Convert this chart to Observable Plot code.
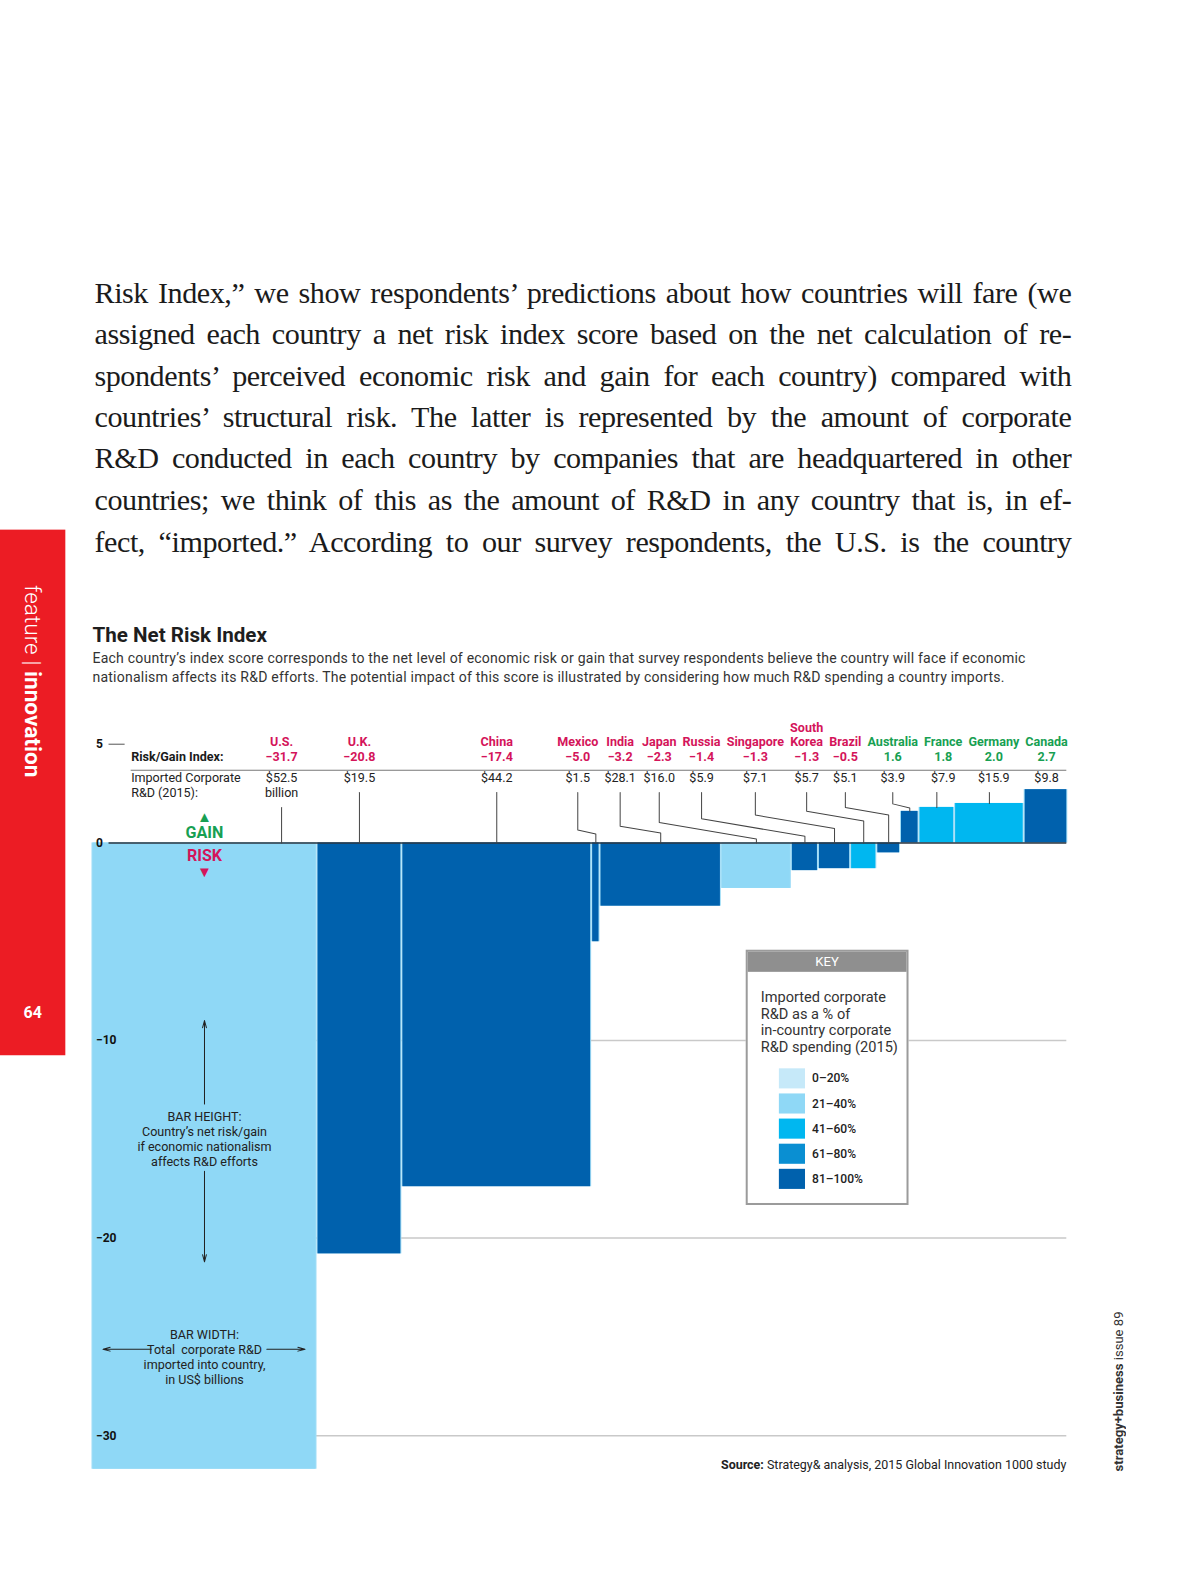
<!DOCTYPE html>
<html><head><meta charset="utf-8">
<script src="https://cdn.jsdelivr.net/npm/d3@7"></script>
<script src="https://cdn.jsdelivr.net/npm/@observablehq/plot@0.6"></script>
<style>
html,body{margin:0;padding:0;background:#fff;overflow:hidden;}
#page{position:relative;width:1200px;height:1575px;overflow:hidden;background:#fff;font-family:Roboto,"Noto Sans",sans-serif;color:#222;transform-origin:0 0;transform:scale(1.005);}
.para{position:absolute;left:94px;top:270px;width:972px;font-family:"Liberation Serif","Times New Roman",serif;font-size:30px;line-height:41.3px;color:#1b1b1b;letter-spacing:-0.45px;}
.para .ln{white-space:nowrap;height:41.3px;}
.abs{position:absolute;}
</style></head>
<body><div id="page">
<div class="para">
<div class="ln"><span>Risk Index,” we show respondents’ predictions about how countries will fare (we</span></div>
<div class="ln"><span>assigned each country a net risk index score based on the net calculation of re-</span></div>
<div class="ln"><span>spondents’ perceived economic risk and gain for each country) compared with</span></div>
<div class="ln"><span>countries’ structural risk. The latter is represented by the amount of corporate</span></div>
<div class="ln"><span>R&amp;D conducted in each country by companies that are headquartered in other</span></div>
<div class="ln"><span>countries; we think of this as the amount of R&amp;D in any country that is, in ef-</span></div>
<div class="ln"><span>fect, “imported.” According to our survey respondents, the U.S. is the country</span></div>
</div>

<div class="abs" style="left:0;top:527px;width:65px;height:523px;background:#ec1c24;"></div>
<div class="abs" style="left:21px;top:582px;writing-mode:vertical-rl;font-size:22.5px;line-height:24px;color:#fff;white-space:nowrap;"><span style="font-weight:300">feature</span> <span style="font-weight:300">|</span> <span style="font-weight:700">innovation</span></div>
<div class="abs" style="left:0;top:998px;width:65px;text-align:center;font-size:16px;font-weight:700;color:#fff;line-height:20px;">64</div>

<div class="abs" style="left:1104px;top:1305px;writing-mode:vertical-rl;transform:rotate(180deg);font-size:13px;line-height:17px;color:#333;white-space:nowrap;"><b>strategy+business</b> issue 89</div>

<div class="abs" style="left:92px;top:619px;font-size:20.5px;line-height:26px;font-weight:700;color:#1e1e1e;">The Net Risk Index</div>
<div class="abs" style="left:92px;top:646px;width:1050px;font-size:14px;line-height:19px;letter-spacing:0.2px;color:#333;white-space:nowrap;">Each country’s index score corresponds to the net level of economic risk or gain that survey respondents believe the country will face if economic<br>nationalism affects its R&amp;D efforts. The potential impact of this score is illustrated by considering how much R&amp;D spending a country imports.</div>

<div id="chart" class="abs" style="left:0;top:700px;width:1200px;height:780px;"></div>
<div id="key" class="abs"></div>

<div class="abs" style="right:139px;top:1450px;font-size:12.4px;line-height:16px;color:#222;white-space:nowrap;"><b>Source:</b> Strategy&amp; analysis, 2015 Global Innovation 1000 study</div>
</div>

<script>
// ---------- data ----------
const countries = ["U.S.","U.K.","China","Mexico","India","Japan","Russia","Singapore","South Korea","Brazil","Australia","France","Germany","Canada"];
const riskIndex = [-31.7,-20.8,-17.4,-5.0,-3.2,-2.3,-1.4,-1.3,-1.3,-0.5,1.6,1.8,2.0,2.7];
const importedRD = [52.5,19.5,44.2,1.5,28.1,16.0,5.9,7.1,5.7,5.1,3.9,7.9,15.9,9.8];
const shareBand = ["21–40%","81–100%","81–100%","81–100%","81–100%","21–40%","81–100%","81–100%","41–60%","81–100%","81–100%","41–60%","41–60%","81–100%"];
const bandLabels = ["0–20%","21–40%","41–60%","61–80%","81–100%"];
const bandColors = ["#c6e9f9","#8fd8f6","#00b7f0","#0a8fd2","#0061ad"];
const yTicks = [5,0,-10,-20,-30];

const PAGE_SCALE = 1.005;

// ---------- paragraph justification ----------
document.querySelectorAll(".para .ln").forEach(el=>{
  const s = el.firstElementChild;
  const w = s.getBoundingClientRect().width / PAGE_SCALE;
  const n = (s.textContent.match(/ /g)||[]).length;
  s.style.wordSpacing = ((972 - w)/n) + "px";
});

// ---------- layout ----------
const RED = "#d4145a", GREEN = "#17a052";
const FS = 12.5;
const GAP = 0.47;
let acc = 0;
const bars = countries.map((c,i)=>{
  const x0 = acc, x1 = acc + importedRD[i];
  acc = x1 + GAP;
  return {country:c, value:riskIndex[i], rd:importedRD[i], band:shareBand[i], x0, x1, mid:(x0+x1)/2, i};
});
const total = bars[bars.length-1].x1;
const X0 = 92, X1 = 1061;
const yRange = [728, 40];
const xs = Plot.scale({x:{domain:[0,total], range:[X0,X1]}});
const ys = Plot.scale({y:{domain:[-30,5], range:yRange}});
const px = v => xs.apply(v), ipx = p => xs.invert(p), ipy = p => ys.invert(p);

const fmt = v => (v<0?"−":"") + Math.abs(v).toFixed(1);
const ctx = document.createElement("canvas").getContext("2d");
const tw = (t, f) => { ctx.font = f; return Math.max(...t.split("\n").map(s=>ctx.measureText(s).width)); };
const FB = `bold ${FS}px Roboto`, FR = `${FS}px Roboto`;

const L = bars.map((b,i)=>{
  const nameTxt = b.country.includes(" ") ? b.country.replace(" ","\n") : b.country;
  const valTxt = fmt(b.value);
  const rdTxt = "$" + b.rd.toFixed(1) + (i===0 ? "\nbillion" : "");
  const w = Math.max(tw(nameTxt,FB), tw(valTxt,FB), tw(rdTxt,FR));
  return {...b, nameTxt, valTxt, rdTxt, w, lx: px(b.mid)};
});
const GAPPX = 6;
const rowTitleX = 130;
const rowTitleRight = rowTitleX + tw("Imported Corporate", FR);
for (let i=0;i<L.length;i++){
  const minX = i===0 ? rowTitleRight + 24 + L[i].w/2 : L[i-1].lx + (L[i-1].w+L[i].w)/2 + GAPPX;
  L[i].lx = Math.max(L[i].lx, minX);
}
for (let i=L.length-1;i>=0;i--){
  const maxX = i===L.length-1 ? X1 + 1 - L[i].w/2 : L[i+1].lx - (L[i+1].w+L[i].w)/2 - GAPPX;
  L[i].lx = Math.min(L[i].lx, maxX);
}
L.forEach(d=>d.lxData = ipx(d.lx));

// leader lines
const y0px = ys.apply(0);
const leaders = [];
let k = 0;
L.forEach((d,i)=>{
  const bx = px(d.mid);
  const startPx = d.rdTxt.includes("\n") ? 103 : 88;
  const endPx = d.value > 0 ? ys.apply(d.value) : y0px;
  if (endPx - startPx < 6) return;
  let pts;
  if (i===0) pts = [[d.lx,startPx],[d.lx,endPx]];          // annotated bar: leader at label
  else if (Math.abs(bx-d.lx) < 11) pts = [[bx,startPx],[bx,endPx]];
  else {
    const k1 = y0px - 13 - k*3.7;
    const k2 = Math.min(k1 + Math.max(4, Math.abs(bx-d.lx)*0.17), endPx - 3);
    pts = [[d.lx,startPx],[d.lx,k1],[bx,k2],[bx,endPx]];
    k++;
  }
  pts.forEach(([x,y])=>leaders.push({country:d.country, x:ipx(x), y:ipy(y)}));
});

const us = bars[0];
const tickFmt = v => v<0 ? "−"+Math.abs(v) : String(v);
const neg = L.filter(d=>d.value<0), pos = L.filter(d=>d.value>=0);

const chart = Plot.plot({
  width: 1200, height: 780,
  marginLeft: X0, marginRight: 1200-X1, marginTop: 20, marginBottom: 12,
  x: {domain:[0,total], range:[X0,X1], axis:null},
  y: {domain:[-30,5], range:yRange, axis:null},
  color: {domain: bandLabels, range: bandColors},
  style: {fontFamily:"Roboto, sans-serif", fontSize:`${FS}px`, color:"#222", background:"transparent", overflow:"visible"},
  marks: [
    Plot.ruleY(yTicks.filter(t=>t<0), {x1: () => 0, x2: () => total, stroke:"#c9c9c9", strokeWidth:1.5}),
    Plot.rect(bars, {x1: d=>d.x0-GAP/2, x2: d=>d.x1+GAP/2, y1: () => 0, y2: "value", fill:"#a3def7"}),
    Plot.rect(bars, {x1:"x0", x2:"x1", y1: () => 0, y2:"value", fill:"band"}),
    Plot.ruleY([0], {x1: () => ipx(108), x2: () => total, stroke:"#2b3640", strokeWidth:1.5}),
    Plot.ruleY([5], {x1: () => ipx(108), x2: () => ipx(124), stroke:"#555", strokeWidth:1}),
    Plot.text(yTicks, {x: () => 0, y: d=>d, text: tickFmt, textAnchor:"start", dx:3, fontWeight:"bold", fontSize:12, fill:"#111"}),
    // header rows
    Plot.text(["Risk/Gain Index:"], {x: () => ipx(rowTitleX), y: () => ipy(53), text: d=>d, textAnchor:"start", fontWeight:"bold", fill:"#1a1a1a"}),
    Plot.text(["Imported Corporate\nR&D (2015):"], {x: () => ipx(rowTitleX), y: () => ipy(67), text: d=>d, textAnchor:"start", lineAnchor:"top", lineHeight:1.2, fill:"#222"}),
    Plot.ruleY([ipy(66)], {x1: () => ipx(rowTitleX), x2: () => total, stroke:"#777", strokeWidth:1}),
    Plot.text(neg, {x:"lxData", y: () => ipy(42), text:"nameTxt", lineAnchor:"bottom", lineHeight:1.12, fontWeight:"bold", fill:RED}),
    Plot.text(pos, {x:"lxData", y: () => ipy(42), text:"nameTxt", lineAnchor:"bottom", lineHeight:1.12, fontWeight:"bold", fill:GREEN}),
    Plot.text(neg, {x:"lxData", y: () => ipy(53), text:"valTxt", fontWeight:"bold", fill:RED}),
    Plot.text(pos, {x:"lxData", y: () => ipy(53), text:"valTxt", fontWeight:"bold", fill:GREEN}),
    Plot.text(L, {x:"lxData", y: () => ipy(67), text:"rdTxt", lineAnchor:"top", lineHeight:1.2, fill:"#222"}),
    Plot.line(leaders, {x:"x", y:"y", z:"country", stroke:"#444", strokeWidth:1}),
    // gain / risk annotation on the first bar
    Plot.text(["▲"], {x: () => us.mid, y: () => 0, dy:-26, text:d=>d, fill:GREEN, fontSize:15}),
    Plot.text(["GAIN"], {x: () => us.mid, y: () => 0, dy:-10, text:d=>d, fill:GREEN, fontSize:16, fontWeight:"bold"}),
    Plot.text(["RISK"], {x: () => us.mid, y: () => 0, dy:13, text:d=>d, fill:RED, fontSize:16, fontWeight:"bold"}),
    Plot.text(["▼"], {x: () => us.mid, y: () => 0, dy:29, text:d=>d, fill:RED, fontSize:15}),
    Plot.text(["BAR HEIGHT:\nCountry’s net risk/gain\nif economic nationalism\naffects R&D efforts"], {x: () => us.mid, y: () => ipy(432.5), text:d=>d, lineHeight:1.2, fill:"#222"}),
    Plot.arrow([{a:398,b:315},{a:465,b:555}], {x1: () => us.mid, x2: () => us.mid, y1: d=>ipy(d.a), y2: d=>ipy(d.b), stroke:"#222", strokeWidth:1, headLength:11, headAngle:30}),
    Plot.text(["BAR WIDTH:\nTotal  corporate R&D\nimported into country,\nin US$ billions"], {x: () => us.mid, y: () => ipy(649.5), text:d=>d, lineHeight:1.2, fill:"#222"}),
    Plot.arrow([{a:150,b:102},{a:265,b:303}], {x1: d=>ipx(d.a), x2: d=>ipx(d.b), y1: () => ipy(642), y2: () => ipy(642), stroke:"#222", strokeWidth:1, headLength:11, headAngle:30})
  ]
});
document.getElementById("chart").appendChild(chart);

// ---------- key ----------
const key = document.getElementById("key");
key.style.cssText = "left:742px;top:945px;width:158px;height:250px;border:2px solid #9b9b9b;background:#fff;position:absolute;";
let html = '<div style="background:#8f8f8f;color:#fff;text-align:center;font-size:13px;height:20px;line-height:20px;">KEY</div>';
html += '<div style="position:absolute;left:13px;top:38px;font-size:14.5px;line-height:16.5px;color:#333;white-space:nowrap;">Imported corporate<br>R&amp;D as a % of<br>in-country corporate<br>R&amp;D spending (2015)</div>';
bandLabels.forEach((lab,i)=>{
  const top = 116 + i*25;
  html += `<div style="position:absolute;left:31px;top:${top}px;width:26px;height:20px;background:${bandColors[i]};"></div>`;
  html += `<div style="position:absolute;left:64px;top:${top}px;height:20px;line-height:20px;font-size:12px;font-weight:500;color:#222;">${lab}</div>`;
});
key.innerHTML = html;
</script>
</body></html>
